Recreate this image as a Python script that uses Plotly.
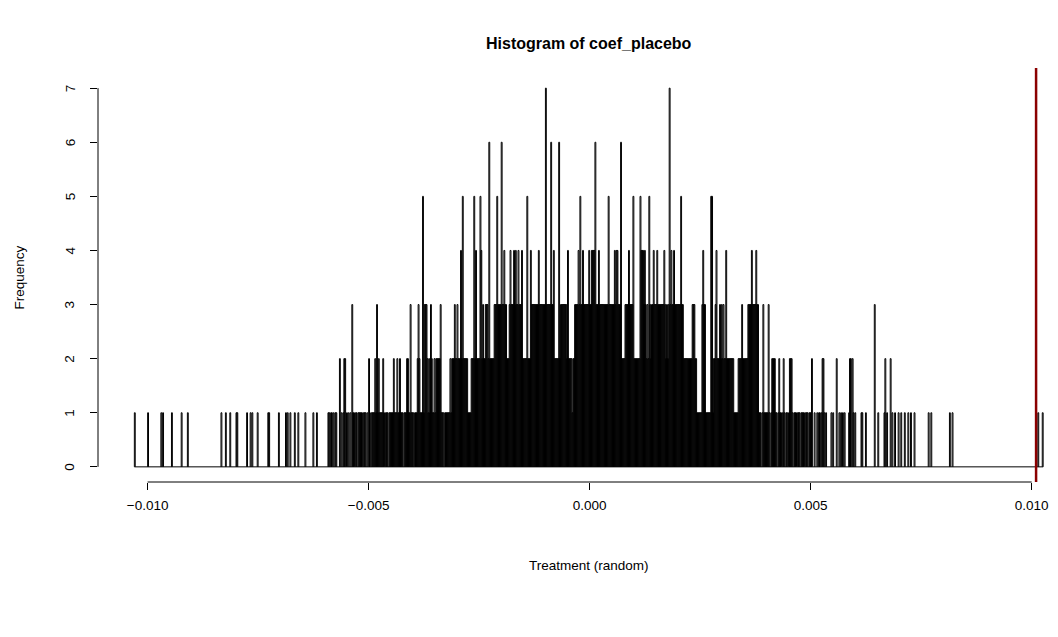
import plotly.graph_objects as go

# ---------------- data ----------------
chart_title = "Histogram of coef_placebo"
x_title = "Treatment (random)"
y_title = "Frequency"

breaks_start = -0.0103      # first histogram break
bin_width = 0.00002         # width of each histogram bin

# frequency of each bin (one digit per bin), 50 bins per row
count_rows = [
    "1000000000" "0000010000" "0000000000" "1010000000" "0010000000",
    "0001000000" "1000000000" "0000000000" "0000000000" "0000000010",
    "0001000010" "0000011000" "0000000100" "0101000001" "0000000000",
    "0110000000" "0001000000" "0101001000" "0100010000" "0001000000",
    "0010001000" "0000000001" "1011010110" "0020101220" "1010103110",
    "1101111101" "1101021011" "1121312111" "1210111011" "1112111211",
    "2111011122" "1131110111" "2321115133" "3212132112" "1222223111",
    "0111111212" "2232232224" "2522222111" "1222524222" "2542322333",
    "2622222333" "5333363343" "3222343334" "3433433342" "2222522243",
    "3333333433" "3333373333" "3633422222" "6233333332" "4222212233",
    "3343533433" "3333433444" "4633343333" "3333335333" "3334344333",
    "6222233334" "3333522222" "2254443432" "3253233433" "3433333334",
    "3232373433" "4333333353" "3222222222" "2333221111" "1134331111",
    "1155122342" "2232323224" "2222222211" "1112222322" "2222333343",
    "3334331110" "1311111310" "1222211012" "1101210110" "1222101110",
    "1110111101" "1101112001" "0010110122" "1010000010" "1000200101",
    "0101000012" "2021010000" "0011000100" "0000000300" "0100000012",
    "0100020100" "1000100100" "0100010010" "0010000000" "0000000010",
    "0100000000" "0000000000" "0010010000" "0000000000" "0000000000",
    "0000000000" "0000000000" "0000000000" "0000000000" "0000000000",
    "0000000000" "0000000000" "00100001",
]
counts = [int(ch) for ch in "".join(count_rows)]

observed_effect = 0.0101     # red vertical line

x_tick_values = [-0.010, -0.005, 0.000, 0.005, 0.010]
x_tick_labels = ["\u22120.010", "\u22120.005", "0.000", "0.005", "0.010"]
y_tick_values = [0, 1, 2, 3, 4, 5, 6, 7]
y_tick_labels = ["0", "1", "2", "3", "4", "5", "6", "7"]

# ---------------- geometry (R-like plot region) ----------------
breaks_end = breaks_start + bin_width * len(counts)
W, H = 1058, 637
ML, MR, MT, MB = 98, 8, 73, 155
plot_w = W - ML - MR
plot_h = H - MT - MB

x_span = breaks_end - breaks_start
x_lo = breaks_start - 0.04 * x_span
x_hi = x_lo + (x_span * 1.08) * plot_w / (1079.5 - 98.0)
y_top = max(counts)
y_lo, y_hi = -0.04 * y_top, y_top * 1.04

font_family = "Liberation Sans, Arial, Helvetica, sans-serif"
fs = 13.5

fig = go.Figure()
# baseline formed by all (also empty) cells
fig.add_trace(go.Scatter(
    x=[breaks_start, breaks_end], y=[0, 0], mode="lines",
    line=dict(color="black", width=1), hoverinfo="skip", showlegend=False,
))
# unfilled rectangle of each bin; bins are split over three interleaved traces so
# that every rectangle is stroked on its own, as R draws them one by one
n_groups = 3
for g in range(n_groups):
    xs, ys = [], []
    for i in range(g, len(counts), n_groups):
        c = counts[i]
        if c > 0:
            a = breaks_start + i * bin_width
            b = a + bin_width
            xs += [a, a, b, b, None]
            ys += [0, c, c, 0, None]
    fig.add_trace(go.Scatter(
        x=xs, y=ys, mode="lines",
        line=dict(color="black", width=1),
        hoverinfo="skip", showlegend=False,
    ))

def ypaper(px):
    return (H - MB - px) / plot_h

def xpaper(px):
    return (px - ML) / plot_w

shapes = [
    dict(type="line", xref="x", yref="paper", x0=x_tick_values[0], x1=x_tick_values[-1],
         y0=0, y1=0, line=dict(color="black", width=1)),
    dict(type="line", xref="paper", yref="y", x0=0, x1=0,
         y0=y_tick_values[0], y1=y_tick_values[-1], line=dict(color="black", width=1)),
    dict(type="line", xref="x", yref="paper", x0=observed_effect, x1=observed_effect,
         y0=0, y1=ypaper(68), line=dict(color="#8B0000", width=2.5)),
]

center_x = (breaks_start + breaks_end) / 2
annotations = [
    dict(text="<b>" + chart_title + "</b>", xref="x", yref="paper", x=center_x, y=ypaper(43),
         xanchor="center", yanchor="middle", showarrow=False,
         font=dict(family=font_family, size=16, color="black")),
    dict(text=x_title, xref="x", yref="paper", x=center_x, y=ypaper(565),
         xanchor="center", yanchor="middle", showarrow=False,
         font=dict(family=font_family, size=fs, color="black")),
    dict(text=y_title, xref="paper", yref="y", x=xpaper(19), y=(y_tick_values[0] + y_tick_values[-1]) / 2,
         xanchor="center", yanchor="middle", showarrow=False, textangle=-90,
         font=dict(family=font_family, size=fs, color="black")),
]
for v, lab in zip(y_tick_values, y_tick_labels):
    annotations.append(dict(
        text=lab, xref="paper", yref="y", x=xpaper(70), y=v,
        xanchor="center", yanchor="middle", showarrow=False, textangle=-90,
        font=dict(family=font_family, size=fs, color="black")))

fig.update_layout(
    width=W, height=H,
    margin=dict(l=ML, r=MR, t=MT, b=MB, pad=0),
    paper_bgcolor="white", plot_bgcolor="white",
    showlegend=False,
    shapes=shapes,
    annotations=annotations,
    font=dict(family=font_family, size=fs, color="black"),
    xaxis=dict(
        range=[x_lo, x_hi], showgrid=False, zeroline=False, showline=False,
        tickmode="array", tickvals=x_tick_values, ticktext=x_tick_labels,
        ticks="outside", ticklen=7, tickwidth=1, tickcolor="black",
        ticklabelstandoff=4,
        tickfont=dict(family=font_family, size=fs, color="black"),
        fixedrange=True,
    ),
    yaxis=dict(
        range=[y_lo, y_hi], showgrid=False, zeroline=False, showline=False,
        tickmode="array", tickvals=y_tick_values, ticktext=[""] * len(y_tick_values),
        ticks="outside", ticklen=7, tickwidth=1, tickcolor="black",
        fixedrange=True,
    ),
)

fig.write_html("out.html")
